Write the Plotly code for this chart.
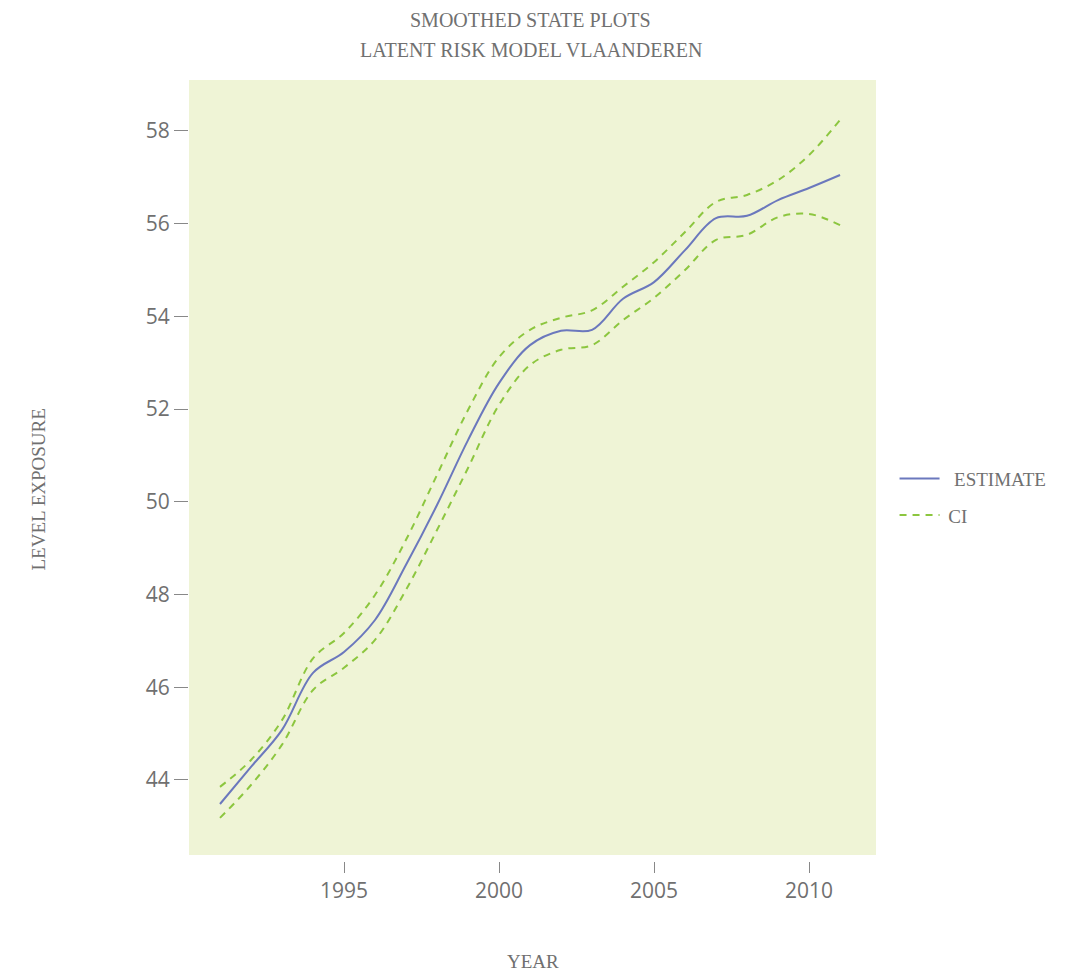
import plotly.graph_objects as go

years = list(range(1991, 2012))
estimate = [43.48, 44.28, 45.08, 46.31, 46.76, 47.45, 48.64, 49.93, 51.33, 52.56, 53.38,
            53.69, 53.71, 54.38, 54.74, 55.43, 56.12, 56.17, 56.51, 56.77, 57.05]
ci_upper = [43.85, 44.43, 45.29, 46.62, 47.17, 47.99, 49.18, 50.58, 51.98, 53.12, 53.71,
            53.97, 54.13, 54.64, 55.17, 55.82, 56.47, 56.62, 56.94, 57.48, 58.24]
ci_lower = [43.18, 43.89, 44.76, 45.94, 46.42, 47.02, 48.10, 49.39, 50.73, 52.09, 52.95,
            53.28, 53.38, 53.92, 54.40, 55.00, 55.65, 55.76, 56.14, 56.21, 55.97]

x_ticks = [1995, 2000, 2005, 2010]
y_ticks = [44, 46, 48, 50, 52, 54, 56, 58]

serif = "Liberation Serif, DejaVu Serif, serif"
sans = "Open Sans, Lato, sans-serif"
blue = "#6b78bd"
green = "#8cc63f"
grey = "#707070"

fig = go.Figure()
fig.add_trace(go.Scatter(x=years, y=estimate, mode="lines", name="\u2002ESTIMATE",
                         legendgroup="est",
                         line=dict(color=blue, width=2, shape="spline", smoothing=1)))
fig.add_trace(go.Scatter(x=years, y=ci_upper, mode="lines", name="\u2009CI", legendgroup="ci",
                         line=dict(color=green, width=2, dash="7px,6px", shape="spline", smoothing=1)))
fig.add_trace(go.Scatter(x=years, y=ci_lower, mode="lines", name="CI", legendgroup="ci",
                         showlegend=False,
                         line=dict(color=green, width=2, dash="7px,6px", shape="spline", smoothing=1)))

title_font = dict(family=serif, size=20, color=grey)
label_font = dict(family=serif, size=19, color=grey)

fig.update_layout(
    width=1068, height=972,
    margin=dict(l=189, r=192, t=80, b=111, autoexpand=False),
    paper_bgcolor="white",
    plot_bgcolor="#eff4d6",
    font=dict(family=sans, color=grey),
    xaxis=dict(range=[1990, 2012.16], tickvals=x_ticks, ticks="outside", ticklen=11,
               tickcolor="#888", tickwidth=1, showgrid=False, zeroline=False, showline=False,
               anchor="free", position=0,
               tickfont=dict(family=sans, size=21, color=grey)),
    yaxis=dict(range=[42.38, 59.1], tickvals=y_ticks, ticks="outside", ticklen=14,
               tickcolor="#888", tickwidth=1, showgrid=False, zeroline=False, showline=False,
               domain=[0.0077, 1],
               tickfont=dict(family=sans, size=21, color=grey)),
    legend=dict(x=1.027, y=0.466, xanchor="left", yanchor="middle",
                traceorder="grouped", tracegroupgap=9,
                font=label_font, itemwidth=40),
    showlegend=True,
    annotations=[
        dict(text="SMOOTHED STATE PLOTS", xref="paper", yref="paper", x=0.5, y=1,
             xshift=-2, yshift=60, xanchor="center", yanchor="middle", showarrow=False,
             font=title_font),
        dict(text="LATENT RISK MODEL VLAANDEREN", xref="paper", yref="paper", x=0.5, y=1,
             xshift=-2, yshift=30, xanchor="center", yanchor="middle", showarrow=False,
             font=title_font),
        dict(text="YEAR", xref="paper", yref="paper", x=0.5, y=0, yshift=-100,
             xanchor="center", yanchor="middle", showarrow=False, font=label_font),
        dict(text="LEVEL EXPOSURE", xref="paper", yref="paper", x=0, xshift=-151,
             y=0.5, yshift=-19, textangle=-90, xanchor="center", yanchor="middle",
             showarrow=False, font=label_font),
    ],
)

fig.write_html("out.html")
